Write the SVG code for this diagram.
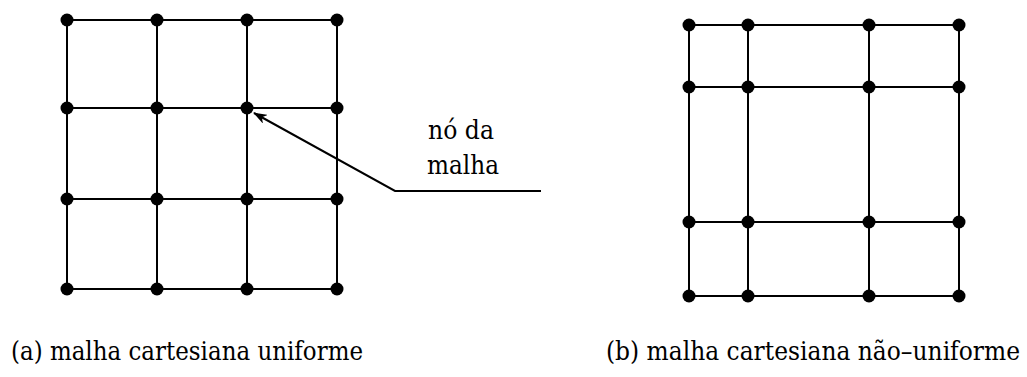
<svg xmlns="http://www.w3.org/2000/svg" width="1027" height="377" viewBox="0 0 1027 377">
<style>
.g{stroke:#000;stroke-width:2;fill:none}
.n{fill:#000}
.t{font-family:"DejaVu Serif",serif;font-size:26px;fill:#000}
</style>
<defs>
<marker id="ah" markerWidth="14" markerHeight="10" refX="13" refY="5" orient="auto" markerUnits="userSpaceOnUse">
<path d="M0,0 L14,5 L0,10 L4,5 Z" fill="#000"/>
</marker>
</defs>
<rect width="1027" height="377" fill="#fff"/>
<g id="connectors">
<g id="gridA-lines" class="g">
<path d="M67,20H337M67,108H337M67,199H337M67,289H337M67,20V289M157,20V289M247,20V289M337,20V289"/>
</g>
<g id="gridB-lines" class="g">
<path d="M689,25H959M689,87H959M689,222H959M689,296H959M689,25V296M748,25V296M869,25V296M959,25V296"/>
</g>
<path id="pointer" d="M541,191H395L254,113" class="g" stroke-width="1.5" marker-end="url(#ah)"/>
</g>
<g id="nodesA" class="n">
<circle cx="67" cy="20" r="6.5"/><circle cx="157" cy="20" r="6.5"/><circle cx="247" cy="20" r="6.5"/><circle cx="337" cy="20" r="6.5"/>
<circle cx="67" cy="108" r="6.5"/><circle cx="157" cy="108" r="6.5"/><circle cx="247" cy="108" r="6.5"/><circle cx="337" cy="108" r="6.5"/>
<circle cx="67" cy="199" r="6.5"/><circle cx="157" cy="199" r="6.5"/><circle cx="247" cy="199" r="6.5"/><circle cx="337" cy="199" r="6.5"/>
<circle cx="67" cy="289" r="6.5"/><circle cx="157" cy="289" r="6.5"/><circle cx="247" cy="289" r="6.5"/><circle cx="337" cy="289" r="6.5"/>
</g>
<g id="nodesB" class="n">
<circle cx="689" cy="25" r="6.5"/><circle cx="748" cy="25" r="6.5"/><circle cx="869" cy="25" r="6.5"/><circle cx="959" cy="25" r="6.5"/>
<circle cx="689" cy="87" r="6.5"/><circle cx="748" cy="87" r="6.5"/><circle cx="869" cy="87" r="6.5"/><circle cx="959" cy="87" r="6.5"/>
<circle cx="689" cy="222" r="6.5"/><circle cx="748" cy="222" r="6.5"/><circle cx="869" cy="222" r="6.5"/><circle cx="959" cy="222" r="6.5"/>
<circle cx="689" cy="296" r="6.5"/><circle cx="748" cy="296" r="6.5"/><circle cx="869" cy="296" r="6.5"/><circle cx="959" cy="296" r="6.5"/>
</g>
<g id="label-node">
<text class="t" x="428" y="139" textLength="66" lengthAdjust="spacingAndGlyphs">nó da</text>
<text class="t" x="427" y="174" textLength="72" lengthAdjust="spacingAndGlyphs">malha</text>
</g>
<g id="caption-a"><text class="t" x="11" y="360" textLength="352" lengthAdjust="spacingAndGlyphs">(a) malha cartesiana uniforme</text></g>
<g id="caption-b"><text class="t" x="606" y="360" textLength="414" lengthAdjust="spacingAndGlyphs">(b) malha cartesiana não–uniforme</text></g>
</svg>
